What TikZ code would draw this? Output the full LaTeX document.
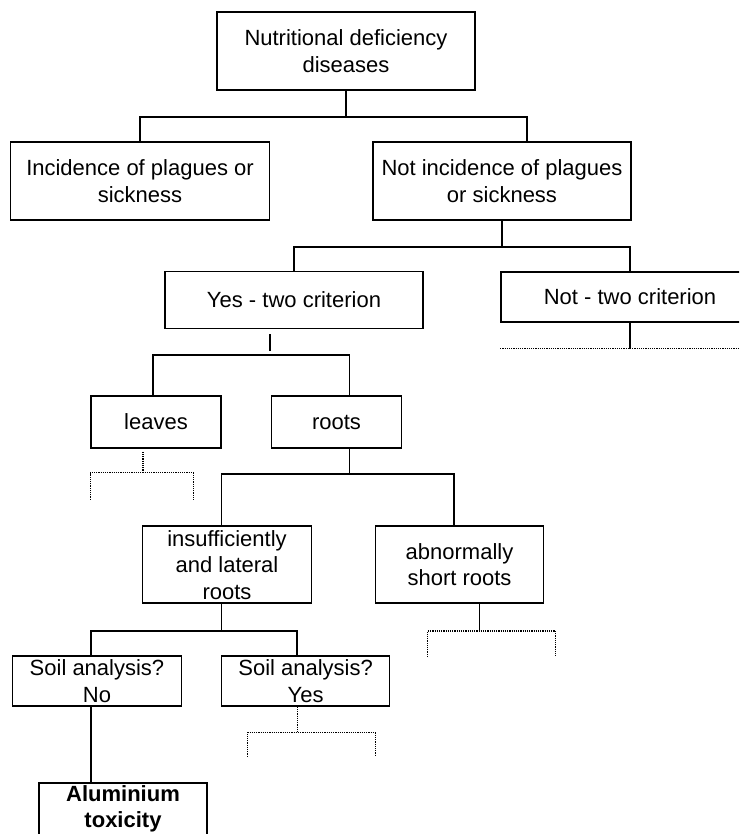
\documentclass[tikz,border=0pt]{standalone}
\usepackage{fontspec}
\setmainfont{Liberation Sans}
\usepackage{tikz}
\usetikzlibrary{shapes,arrows}

\begin{document}
\begin{tikzpicture}[x=1pt,y=-1pt]
\useasboundingbox (0,0) rectangle (739,834);
\clip (0,0) rectangle (739,834);
\tikzstyle{box}=[rectangle,draw, line width=1.6pt, inner sep=1pt,
    align=center, font=\fontsize{22}{26.5}\selectfont]
\tikzstyle{link}=[line width=1.6pt]
\tikzstyle{dots}=[densely dotted, line width=1.2pt]

\node[box, minimum width = 258, minimum height = 78] (nd) at (346,51) {Nutritional deficiency\\diseases};

\node[box, minimum width = 259, minimum height = 78] (inc) at (140,181) {Incidence of plagues or\\sickness};
\node[box, minimum width = 258, minimum height = 78] (notinc) at (502,181) {Not incidence of plagues\\or sickness};

\node[box, minimum width = 258, minimum height = 57] (yes) at (294,300) {Yes - two criterion};
\node[box, minimum width = 258, minimum height = 50] (notc) at (630,297) {Not - two criterion};

\node[box, minimum width = 130, minimum height = 52] (lv) at (156,422) {leaves};
\node[box, minimum width = 130, minimum height = 52] (rt) at (336.5,422) {roots};

\node[box, minimum width = 169, minimum height = 77] (ins) at (227,564.7) {insufficiently\\and lateral\\roots};
\node[box, minimum width = 168, minimum height = 77] (abn) at (459.5,564.7) {abnormally\\short roots};

\node[box, minimum width = 169, minimum height = 50] (sno) at (97,681) {Soil analysis?\\No};
\node[box, minimum width = 168, minimum height = 50] (syes) at (305.6,681) {Soil analysis?\\Yes};

\node[box, minimum width = 168, minimum height = 52] (al) at (123,809) {\textbf{Aluminium}\\\textbf{toxicity}};

% first level
\draw[link] (nd.south) -- ++(0,26) coordinate (j1);
\draw[link] (inc.north) |- (j1);
\draw[link] (j1) -| ([xshift=25pt]notinc.north);

\draw[link] (notinc.south) -- ++(0,26) coordinate (j2);
\draw[link] (yes.north) |- (j2);
\draw[link] (j2) -| (notc.north);

% yes branch
\draw[link] ([xshift=-24pt]yes.south) ++(0,5) -- ++(0,17);
\draw[link] ([xshift=-3pt]lv.north) -- ++(0,-40) -| ([xshift=13pt]rt.north);

\draw[link] (notc.south) -- ++(0,26) coordinate (j4);
\draw[dots] (notc.south west |- j4) -- (j4) -- (notc.south east |- j4);

\draw[dots] ([xshift=-13pt]lv.south) ++(0,3) -- ++(0,21) coordinate (j5);
\draw[dots] (lv.south west |- j5) ++(0,27) -- (lv.south west |- j5) -- ++(103,0) -- ++(0,28);

% roots
\draw[link] ([xshift=13pt]rt.south) -- ++(0,25) coordinate (j6);
\draw[link] ([xshift=-5.5pt]ins.north) |- (j6) -| ([xshift=-5.5pt]abn.north);

\draw[link] ([xshift=-5.5pt]ins.south) -- ++(0,27) coordinate (j7);
\draw[link] ([xshift=-6pt]sno.north) |- (j7) -| ([xshift=-8.5pt]syes.north);

\draw[link] ([xshift=20pt]abn.south) -- ++(0,27) coordinate (j8);
\draw[dots] (j8) ++(-52,26) -- ++(0,-26) -- ++(128,0) -- ++(0,26);

\draw[dots] ([xshift=-8.5pt]syes.south) -- ++(0,26) coordinate (j9);
\draw[dots] (j9) ++(-50,24) -- ++(0,-24) -- ++(128,0) -- ++(0,22);

\draw[link] ([xshift=-6pt]sno.south) -- ([xshift=-32pt]al.north);
\end{tikzpicture}
\end{document}
